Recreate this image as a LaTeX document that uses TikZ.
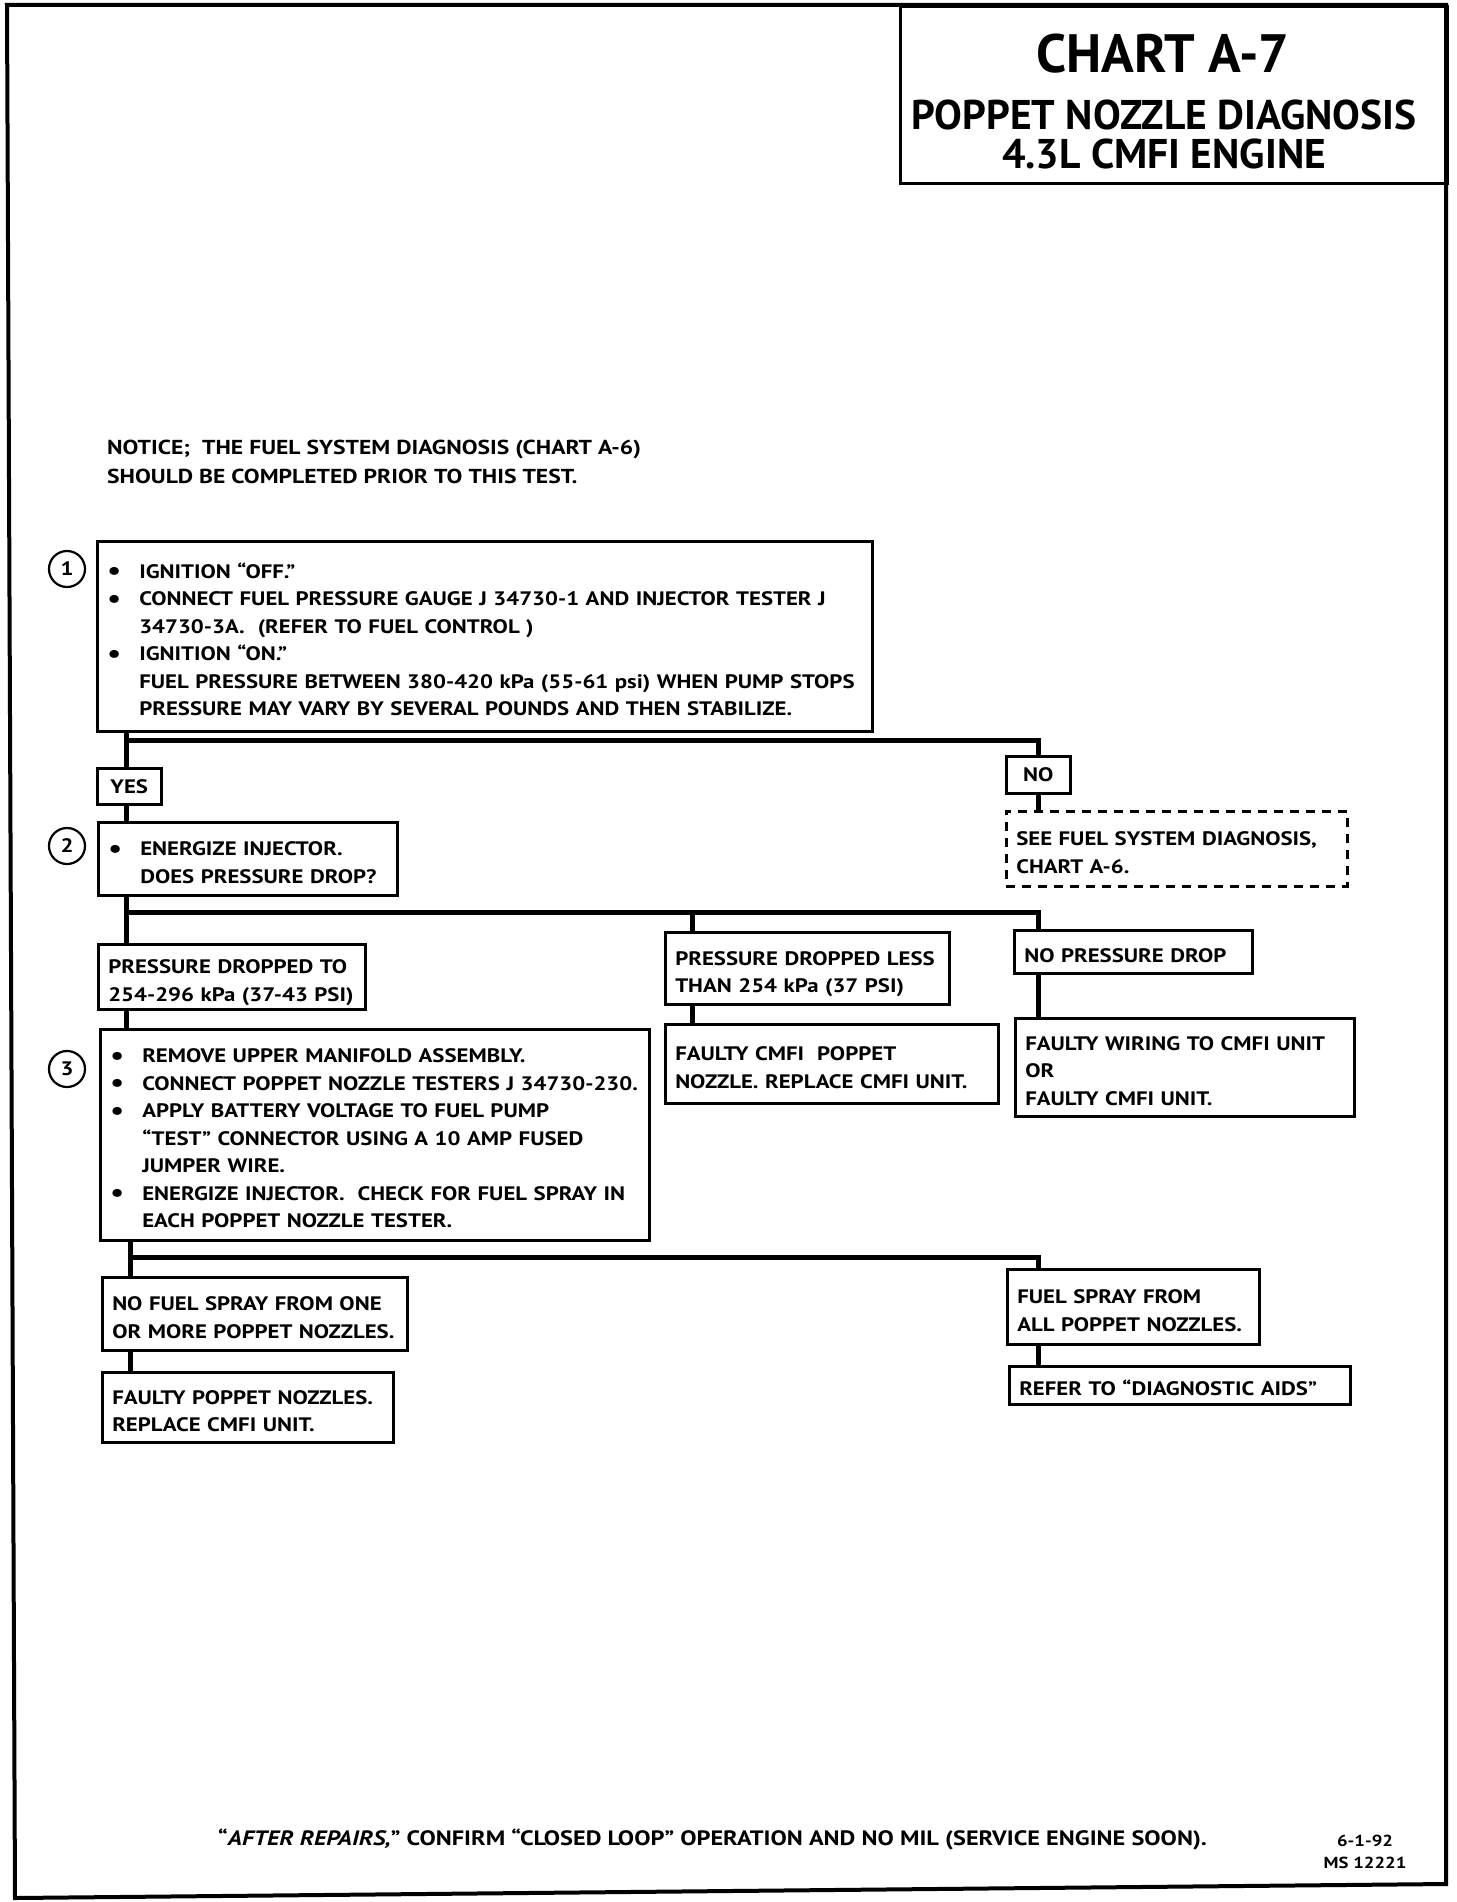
\documentclass[tikz,border=0pt]{standalone}
\usepackage{fontspec}
\setmainfont{PT Sans}[FakeStretch=1.17]
\newfontfamily\titlefont{PT Sans}
\newcommand{\txt}{\fontsize{19.5}{27.5}\selectfont\bfseries}
\newcommand{\bul}{\makebox[32pt][l]{\raisebox{-1.5pt}{\fontsize{26}{26}\selectfont\textbullet}}}
\newcommand{\ind}{\hspace*{32pt}}
\newcommand{\tl}[1]{\raisebox{-5pt}[\height][\depth]{\begin{tabular}{@{}l@{}}#1\end{tabular}}}
\begin{document}
\begin{tikzpicture}[x=1pt,y=-1pt,
  box/.style={draw, line width=2.5pt, anchor=north west, align=left, inner xsep=10pt, inner ysep=0pt, font=\txt},
  cbox/.style={draw, line width=2.5pt, anchor=north west, align=center, inner sep=0pt, font=\txt},
  conn/.style={line width=5pt},
  num/.style={circle, draw, line width=2.2pt, minimum size=36pt, inner sep=0pt, font=\txt},
  plain/.style={inner sep=0pt, font=\txt}]
\useasboundingbox (0,0) rectangle (1456,1902);
% frame
\draw[line width=4pt] (7,5) -- (1446,5) -- (1446,1884) -- (15,1898) -- cycle;
% title
\node[draw, line width=3pt, anchor=north west, minimum width=547pt, minimum height=177pt, inner sep=0pt] (title) at (899,5) {};
\node[plain, anchor=base, font=\titlefont\fontsize{54}{54}\selectfont\bfseries] (t1) at (1163,73) {CHART A-7};
\node[plain, anchor=base, font=\titlefont\fontsize{41.5}{41.5}\selectfont\bfseries] (t2) at (1164,130) {POPPET NOZZLE DIAGNOSIS};
\node[plain, anchor=base, font=\titlefont\fontsize{41.5}{41.5}\selectfont\bfseries] (t3) at (1164,169) {4.3L CMFI ENGINE};
% notice
\node[plain, anchor=base west, font=\fontsize{20.2}{27}\selectfont\bfseries] (n1) at (107,454) {NOTICE;\ \ THE FUEL SYSTEM DIAGNOSIS (CHART A-6)};
\node[plain, anchor=base west, font=\fontsize{20.2}{27}\selectfont\bfseries] (n2) at (107,483) {SHOULD BE COMPLETED PRIOR TO THIS TEST.};
% step 1
\node[num] (c1) at (67,569) {1};
\node[box, text width=755pt, minimum height=190pt] (b1) at (96,540) {\tl{\bul IGNITION \textquotedblleft OFF.\textquotedblright\\
\bul CONNECT FUEL PRESSURE GAUGE J 34730-1 AND INJECTOR TESTER J\\
\ind 34730-3A.\ \ (REFER TO FUEL CONTROL )\\
\bul IGNITION \textquotedblleft ON.\textquotedblright\\
\ind FUEL PRESSURE BETWEEN 380-420 kPa (55-61 psi) WHEN PUMP STOPS\\
\ind PRESSURE MAY VARY BY SEVERAL POUNDS AND THEN STABILIZE.}};
\node[cbox, minimum width=64pt, minimum height=36pt] (yes) at (96,767) {YES};
\node[cbox, minimum width=64pt, minimum height=37pt] (no) at (1005,755) {NO};
\node[box, dashed, dash pattern=on 9pt off 7pt, text width=321pt, minimum height=75pt] (see) at (1005,810) {\tl{SEE FUEL SYSTEM DIAGNOSIS,\\CHART A-6.}};
% step 2
\node[num] (c2) at (67,846) {2};
\node[box, text width=279pt, minimum height=73pt] (b2) at (97,821) {\tl{\bul ENERGIZE INJECTOR.\\\ind DOES PRESSURE DROP?}};
\node[box, text width=247pt, minimum height=65pt] (pd) at (97,943) {\tl{PRESSURE DROPPED TO\\254-296 kPa (37-43 PSI)}};
\node[box, text width=264pt, minimum height=72pt] (less) at (664,931) {\tl{PRESSURE DROPPED LESS\\THAN 254 kPa (37 PSI)}};
\node[box, text width=218pt, minimum height=43pt] (npd) at (1013,929) {\tl{NO PRESSURE DROP}};
\node[box, text width=313pt, minimum height=79pt] (fc) at (664,1023) {\tl{FAULTY CMFI\ \ POPPET\\NOZZLE. REPLACE CMFI UNIT.}};
\node[box, text width=319pt, minimum height=98pt] (fw) at (1014,1017) {\tl{FAULTY WIRING TO CMFI UNIT\\OR\\FAULTY CMFI UNIT.}};
% step 3
\node[num] (c3) at (67,1069) {3};
\node[box, text width=529pt, minimum height=211pt] (b3) at (99,1028) {\tl{\bul REMOVE UPPER MANIFOLD ASSEMBLY.\\
\bul CONNECT POPPET NOZZLE TESTERS J 34730-230.\\
\bul APPLY BATTERY VOLTAGE TO FUEL PUMP\\
\ind \textquotedblleft TEST\textquotedblright\ CONNECTOR USING A 10 AMP FUSED\\
\ind JUMPER WIRE.\\
\bul ENERGIZE INJECTOR.\ \ CHECK FOR FUEL SPRAY IN\\
\ind EACH POPPET NOZZLE TESTER.}};
\node[box, text width=285pt, minimum height=73pt] (nfs) at (101,1276) {\tl{NO FUEL SPRAY FROM ONE\\OR MORE POPPET NOZZLES.}};
\node[box, text width=271pt, minimum height=70pt] (fpn) at (101,1371) {\tl{FAULTY POPPET NOZZLES.\\REPLACE CMFI UNIT.}};
\node[box, text width=232pt, minimum height=75pt] (fs) at (1006,1268) {\tl{FUEL SPRAY FROM\\ALL POPPET NOZZLES.}};
\node[box, text width=321pt, minimum height=38pt] (ref) at (1008,1365) {\tl{REFER TO \textquotedblleft DIAGNOSTIC AIDS\textquotedblright}};
% connectors
\coordinate (j1) at (126,740);
\draw[conn] (b1.south -| j1) -- (yes.north -| j1);
\draw[conn] (j1) -| (no.north);
\draw[conn] (yes.south -| j1) -- (b2.north -| j1);
\draw[conn] (no.south) -- (see.north -| no.south);
\coordinate (j2) at (126,912);
\draw[conn] (b2.south -| j2) -- (pd.north -| j2);
\draw[conn] (j2) -| (npd.north -| no.south);
\draw[conn] (j2 -| 692,0) -- (less.north -| 692,0);
\draw[conn] (less.south -| 692,0) -- (fc.north -| 692,0);
\draw[conn] (npd.south -| no.south) -- (fw.north -| no.south);
\draw[conn] (pd.south -| j2) -- (b3.north -| j2);
\coordinate (j3) at (130,1257);
\draw[conn] (b3.south -| j3) -- (nfs.north -| j3);
\draw[conn] (j3) -| (fs.north -| no.south);
\draw[conn] (nfs.south -| j3) -- (fpn.north -| j3);
\draw[conn] (fs.south -| no.south) -- (ref.north -| no.south);
% footer
\node[plain, anchor=base west, font=\fontsize{20.8}{22}\selectfont\bfseries] (foot) at (218,1845) {\textquotedblleft\textit{AFTER REPAIRS,}\textquotedblright\ CONFIRM \textquotedblleft CLOSED LOOP\textquotedblright\ OPERATION AND NO MIL (SERVICE ENGINE SOON).};
\node[plain, anchor=base, font=\fontsize{16}{22}\selectfont\bfseries] (date) at (1365,1846) {6-1-92};
\node[plain, anchor=base, font=\fontsize{16}{22}\selectfont\bfseries] (ms) at (1365,1868) {MS 12221};
\end{tikzpicture}
\end{document}
